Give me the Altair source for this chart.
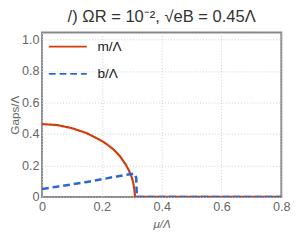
import altair as alt
import pandas as pd

# Data
m_x = [0.0, 0.05, 0.10, 0.15, 0.20, 0.22, 0.24, 0.26, 0.28, 0.29, 0.30, 0.305, 0.309, 0.311, 0.8]
m_y = [0.463, 0.457, 0.437, 0.405, 0.356, 0.33, 0.30, 0.26, 0.205, 0.17, 0.125, 0.09, 0.04, 0.0, 0.0]
b_x = [0.0, 0.05, 0.10, 0.15, 0.20, 0.25, 0.28, 0.30, 0.31, 0.315, 0.317, 0.8]
b_y = [0.05, 0.065, 0.08, 0.095, 0.112, 0.13, 0.14, 0.146, 0.147, 0.12, 0.0, 0.0]
series = ["m/Λ", "b/Λ"]
colors = ["#D23C0A", "#2F66D6"]
dashes = [[1, 0], [7, 4]]

x_ticks = [0, 0.2, 0.4, 0.6, 0.8]
y_ticks = [0, 0.2, 0.4, 0.6, 0.8, 1.0]

df_m = pd.DataFrame({"x": m_x, "y": m_y, "s": series[0], "o": range(len(m_x))})
df_b = pd.DataFrame({"x": b_x, "y": b_y, "s": series[1], "o": range(len(b_x))})

color = alt.Color("s:N", scale=alt.Scale(domain=series, range=colors),
                  legend=alt.Legend(title=None, orient="none", legendX=6, legendY=-6,
                                    symbolType="stroke", symbolSize=1521,
                                    symbolStrokeWidth=2, labelFontSize=14,
                                    labelFont="Liberation Sans", labelColor="#222",
                                    labelOffset=10, rowPadding=-18, padding=0))
dash = alt.StrokeDash("s:N", scale=alt.Scale(domain=series, range=dashes), legend=None)

xenc = alt.X("x:Q", scale=alt.Scale(domain=[0, 0.8], nice=False),
             axis=alt.Axis(values=x_ticks, title="μ/Λ", titleFontStyle="italic",
                           labelExpr="datum.value == 0 ? '0' : format(datum.value, '.1f')"))
yenc = alt.Y("y:Q", scale=alt.Scale(domain=[0, 1.045], nice=False),
             axis=alt.Axis(values=y_ticks, title="Gaps/Λ",
                           labelExpr="datum.value == 0 ? '0' : format(datum.value, '.1f')"))

red = alt.Chart(df_m).mark_line(strokeWidth=2.2, clip=True).encode(
    x=xenc, y=yenc, order="o:Q", color=color, strokeDash=dash)
blue = alt.Chart(df_b).mark_line(strokeWidth=2.6, clip=True).encode(
    x=xenc, y=yenc, order="o:Q", color=color, strokeDash=dash)

chart = alt.layer(red, blue).properties(
    width=246, height=169,
    title=alt.TitleParams("/) ΩR = 10⁻², √eB = 0.45Λ", anchor="middle", frame="group",
                          fontSize=17, font="Liberation Sans", fontWeight="normal",
                          color="#333", offset=1),
    autosize=alt.AutoSizeParams(type="none"),
    padding={"left": 35, "top": 22, "right": 11, "bottom": 38},
).configure_view(stroke="#888", strokeWidth=2).configure_axis(
    domain=False, ticks=False, grid=True, gridColor="#ccc", gridDash=[1, 2],
    labelFont="Liberation Sans", labelFontSize=13, labelColor="#666",
    titleFont="Liberation Sans", titleFontSize=12, titleColor="#666",
    titleFontWeight="normal",
).configure_axisX(titlePadding=5, labelPadding=4, labelFlush=False).configure_axisY(
    titlePadding=0, labelPadding=3)

chart.save("out.html", embed_options={"renderer": "svg", "actions": False})
